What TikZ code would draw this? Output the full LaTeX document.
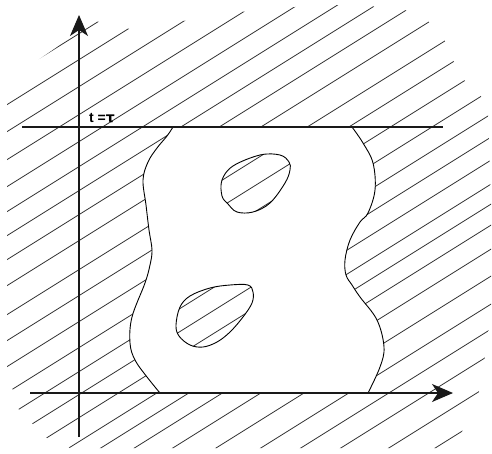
\documentclass[tikz,border=0pt]{standalone}
\usepackage{fontspec}
\setmainfont{Liberation Sans}
\newfontfamily\taufont{DejaVu Sans}
\usetikzlibrary{arrows.meta}
\begin{document}
\begin{tikzpicture}[x=1pt,y=-1pt,
  hatch/.style={line width=0.8pt, black!80},
  axisline/.style={line width=1.1pt, black!90},
  bound/.style={line width=0.9pt, black},
  tip/.style={-{Stealth[length=21pt,width=18pt,inset=6pt]}}]
\useasboundingbox[fill=white] (0,0) rectangle (492,453);
% hatching
\begin{scope}[even odd rule]
\clip
  (9,80) -- (95,21) -- (130,29) -- (183,21) -- (240,12) -- (295,7) -- (337,5) -- (368,6) -- (403,9) -- (427,20) -- (444,39) -- (453,60) -- (463,79) -- (480,94) -- (488,114) -- (491,200) -- (491,307) -- (488,335) -- (484,363) -- (478,397) -- (459,438) -- (437,448) -- (100,448) -- (70,448) -- (47,438) -- (33,424) -- (20,413) -- (13,391) -- (7,368) -- (7,105) -- cycle
  (173,127) -- (352,127) -- plot[smooth, tension=0.6] coordinates {(352,127) (363,143) (373,163) (375,190) (368,213) (360,222) (350,240) (345,260) (346,275) (352,285) (360,297) (377,320) (384,347) (380,367) (368,393)} -- (160,393) -- plot[smooth, tension=0.6] coordinates {(160,393) (147,377) (135,360) (130,343) (132,317) (145,283) (150,265) (152,250) (149,230) (146,205) (143,180) (148,162) (157,148) (167,136) (173,127)} -- cycle
  plot[smooth cycle, tension=0.6] coordinates {(222,180) (233,166) (260,155) (280,155) (289,162) (290,170) (285,183) (270,203) (253,212) (237,212) (228,204) (222,196)}
  plot[smooth cycle, tension=0.6] coordinates {(176,325) (180,307) (190,296) (210,288) (230,285) (248,285) (253,292) (252,303) (243,317) (230,332) (217,342) (203,347) (190,345) (179,336)};
\foreach \c in {83,109,136,164,191,216,240,264,290,319,345,371,397,421,444,467,491,511,532,556,583,611,636,661,691,720}
  \draw[hatch] (-10,\c+6.25) -- (500,\c-312.5);
\end{scope}
% boundaries of the white region
\draw[bound] plot[smooth, tension=0.6] coordinates {(352,127) (363,143) (373,163) (375,190) (368,213) (360,222) (350,240) (345,260) (346,275) (352,285) (360,297) (377,320) (384,347) (380,367) (368,393)};
\draw[bound] plot[smooth, tension=0.6] coordinates {(160,393) (147,377) (135,360) (130,343) (132,317) (145,283) (150,265) (152,250) (149,230) (146,205) (143,180) (148,162) (157,148) (167,136) (173,127)};
\draw[bound] plot[smooth cycle, tension=0.6] coordinates {(222,180) (233,166) (260,155) (280,155) (289,162) (290,170) (285,183) (270,203) (253,212) (237,212) (228,204) (222,196)};
\draw[bound] plot[smooth cycle, tension=0.6] coordinates {(176,325) (180,307) (190,296) (210,288) (230,285) (248,285) (253,292) (252,303) (243,317) (230,332) (217,342) (203,347) (190,345) (179,336)};
% axes and the line t = tau
\coordinate (vbot) at (79,437);
\coordinate (vtop) at (79,15);
\coordinate (hleft) at (30,393);
\coordinate (hright) at (453,393);
\coordinate (tl) at (22,127);
\coordinate (tr) at (443,127);
\draw[axisline, tip] (vbot) -- (vtop);
\draw[axisline, tip] (hleft) -- (hright);
\draw[axisline] (tl) -- (tr);
\node[anchor=base west, inner sep=0pt, font=\fontsize{14}{14}\selectfont\bfseries] (tlabel) at (89,122) {t =\taufont τ};
\end{tikzpicture}
\end{document}
